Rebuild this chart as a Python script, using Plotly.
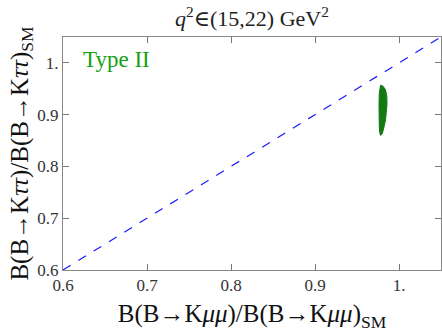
import plotly.graph_objects as go

# outline of the allowed region (Type II)
region_x = [0.978, 0.981, 0.984, 0.9855, 0.9857, 0.985, 0.984, 0.982, 0.980, 0.978,
            0.977, 0.9765, 0.9762, 0.9762, 0.9765, 0.977, 0.978]
region_y = [0.957, 0.955, 0.948, 0.935, 0.920, 0.905, 0.890, 0.875, 0.863, 0.860,
            0.866, 0.880, 0.900, 0.920, 0.940, 0.952, 0.957]

# SM-like diagonal
diag_x = [0.6, 1.05]
diag_y = [0.6, 1.05]

tick_vals = [0.6, 0.7, 0.8, 0.9, 1.0]
tick_text = ["0.6", "0.7", "0.8", "0.9", "1."]

serif = "Liberation Serif, Times New Roman, DejaVu Serif"

fig = go.Figure()
fig.add_trace(go.Scatter(x=diag_x, y=diag_y, mode="lines",
                         line=dict(color="#1a1aff", width=1.2, dash="dash"),
                         showlegend=False))
fig.add_trace(go.Scatter(x=region_x, y=region_y, mode="lines", fill="toself",
                         fillcolor="#137a13", line=dict(color="#137a13", width=1),
                         showlegend=False))

axis_common = dict(
    tickvals=tick_vals, ticktext=tick_text,
    ticks="inside", ticklen=6, tickcolor="#777777",
    showline=True, linecolor="#888888", linewidth=1, mirror="ticks",
    showgrid=False, zeroline=False, automargin=False,
    tickfont=dict(family=serif, size=17, color="#333333"),
)

fig.update_layout(
    width=442, height=333,
    margin=dict(l=63, r=1, t=37, b=63),
    plot_bgcolor="white", paper_bgcolor="white",
    title=dict(text="<i>q</i><sup>2</sup>∈(15,22) GeV<sup>2</sup>",
               x=0.57, xanchor="center", y=0.945, yanchor="middle",
               font=dict(family=serif, size=22, color="#222222")),
    xaxis=dict(range=[0.6, 1.05], **axis_common,
               title=dict(text="B(B→K<i>μμ</i>)/B(B→K<i>μμ</i>)<sub>SM</sub>",
                          font=dict(family=serif, size=25, color="#111111"),
                          standoff=10)),
    yaxis=dict(range=[0.6, 1.05], **axis_common,
               title=dict(text="B(B→K<i>ττ</i>)/B(B→K<i>ττ</i>)<sub>SM</sub>",
                          font=dict(family=serif, size=25, color="#111111"),
                          standoff=1)),
    annotations=[dict(x=0.622, y=1.007, xref="x", yref="y", text="Type II",
                      showarrow=False, xanchor="left", yanchor="middle",
                      font=dict(family=serif, size=23, color="#15a015"))],
)

# drop the default page margin so the figure sits at the window corner
fig.write_html("out.html",
               config={"displayModeBar": False},
               post_script="document.body.style.margin='0';"
                           "document.body.style.overflow='hidden';")
